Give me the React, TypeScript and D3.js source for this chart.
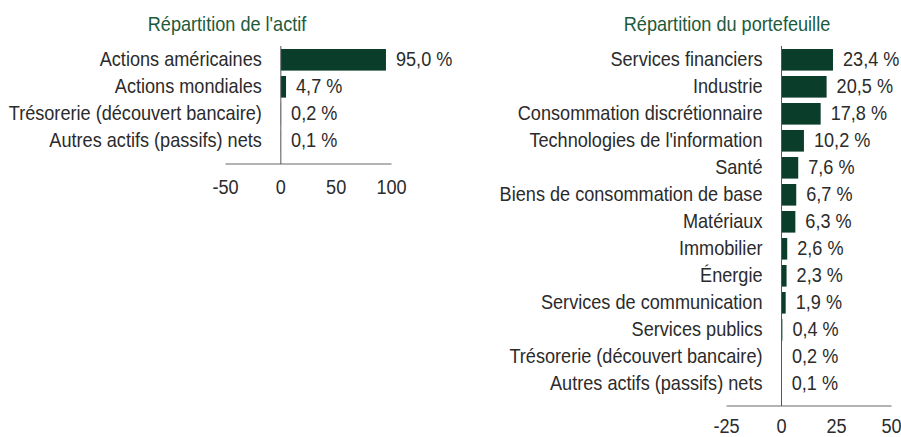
import React from "react";
import * as d3 from "d3";

const assetCategories = [
  "Actions américaines",
  "Actions mondiales",
  "Trésorerie (découvert bancaire)",
  "Autres actifs (passifs) nets",
];
const assetValues = [95.0, 4.7, 0.2, 0.1];
const assetTicks = [-50, 0, 50, 100];

const sectorCategories = [
  "Services financiers",
  "Industrie",
  "Consommation discrétionnaire",
  "Technologies de l'information",
  "Santé",
  "Biens de consommation de base",
  "Matériaux",
  "Immobilier",
  "Énergie",
  "Services de communication",
  "Services publics",
  "Trésorerie (découvert bancaire)",
  "Autres actifs (passifs) nets",
];
const sectorValues = [23.4, 20.5, 17.8, 10.2, 7.6, 6.7, 6.3, 2.6, 2.3, 1.9, 0.4, 0.2, 0.1];
const sectorTicks = [-25, 0, 25, 50];

const FONT = "'Liberation Sans', Arial, sans-serif";
const FS = 19.5;
const SX = 0.93;
const BAR = "#0b3d2b";
const TITLE = "#1d5a3c";
const TEXT = "#2b2b2b";

function T({ x, y, anchor, fill, children }: { x: number; y: number; anchor: string; fill: string; children: React.ReactNode }) {
  return (
    <text
      transform={`translate(${x},${y}) scale(${SX},1)`}
      textAnchor={anchor}
      fill={fill}
      fontSize={FS}
      fontFamily={FONT}
    >
      {children}
    </text>
  );
}

type PanelProps = {
  title: string;
  titleX: number;
  cats: string[];
  vals: number[];
  ticks: number[];
  x0: number;
  x1: number;
  axisY: number;
  tickOffset: number;
};

function Panel({ title, titleX, cats, vals, ticks, x0, x1, axisY, tickOffset }: PanelProps) {
  const x = d3.scaleLinear().domain([ticks[0], ticks[ticks.length - 1]]).range([x0, x1]);
  const step = 27;
  const top = 49;
  const y = d3
    .scaleBand<string>()
    .domain(cats)
    .range([top, top + (cats.length - 0.2) * step])
    .paddingInner(0.2)
    .paddingOuter(0);
  const zx = x(0);
  const fmt = (v: number) => d3.format(".1f")(v).replace(".", ",") + " %";
  const off = FS * 0.33;
  return (
    <g>
      <T x={titleX} y={31} anchor="middle" fill={TITLE}>
        {title}
      </T>
      {cats.map((c, i) => {
        const v = vals[i];
        const yy = y(c)!;
        const bw = y.bandwidth();
        const cy = yy + bw / 2 + off;
        return (
          <g key={c}>
            <rect x={zx} y={yy} width={x(v) - zx} height={bw} fill={BAR} />
            <T x={zx - 19} y={cy} anchor="end" fill={TEXT}>
              {c}
            </T>
            <T x={x(v) + 10} y={cy} anchor="start" fill={TEXT}>
              {fmt(v)}
            </T>
          </g>
        );
      })}
      <line x1={x0} x2={x1} y1={axisY} y2={axisY} stroke="#9a9a9a" strokeWidth={1.5} />
      <line x1={zx} x2={zx} y1={46} y2={axisY} stroke="#555" strokeWidth={1} />
      {ticks.map((t) => (
        <T key={t} x={x(t)} y={axisY + tickOffset} anchor="middle" fill={TEXT}>
          {t}
        </T>
      ))}
    </g>
  );
}

export default function App() {
  return (
    <svg width={901} height={437} style={{ position: "absolute", left: 0, top: 0, background: "#fff" }}>
      <Panel
        title="Répartition de l'actif"
        titleX={227}
        cats={assetCategories}
        vals={assetValues}
        ticks={assetTicks}
        x0={225.5}
        x1={391.5}
        axisY={164}
        tickOffset={30}
      />
      <Panel
        title="Répartition du portefeuille"
        titleX={727}
        cats={sectorCategories}
        vals={sectorValues}
        ticks={sectorTicks}
        x0={726.5}
        x1={891.5}
        axisY={406}
        tickOffset={26.5}
      />
    </svg>
  );
}
